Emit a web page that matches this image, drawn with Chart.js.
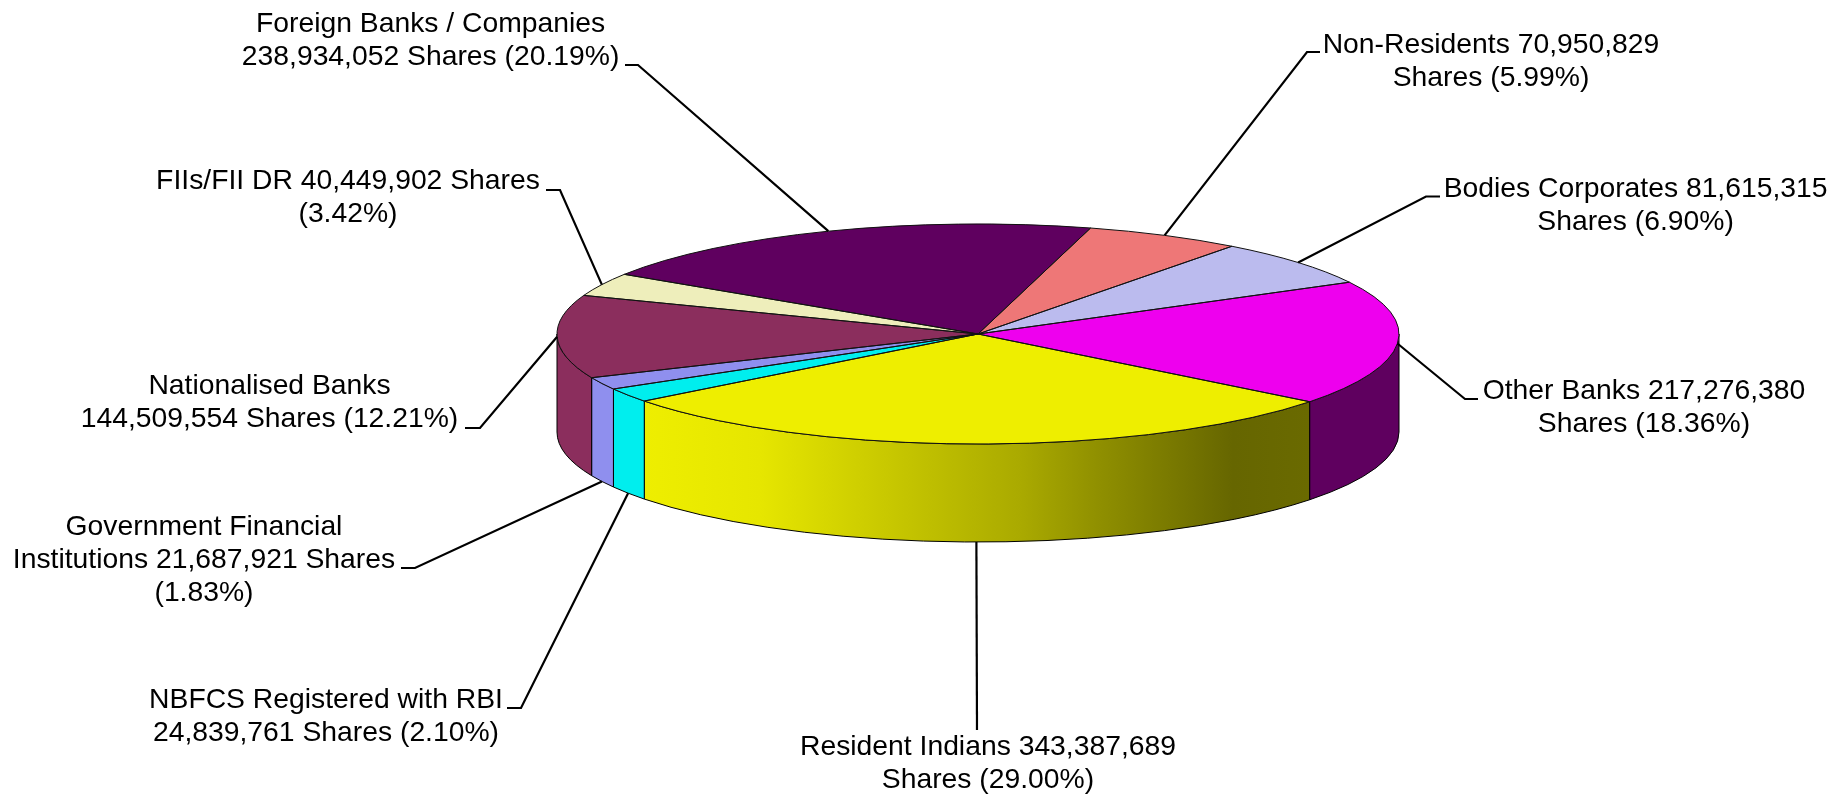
<!DOCTYPE html>
<html>
<head>
<meta charset="utf-8">
<title>Shareholding pattern</title>
<script src="https://cdn.jsdelivr.net/npm/chart.js@4"></script>
<style>
  html, body { margin: 0; padding: 0; background: #fff; overflow: hidden; }
  canvas { display: block; }
</style>
</head>
<body>
<canvas id="myChart" width="1845" height="796"></canvas>
<script>
const categorias = ['Resident Indians', 'NBFCS Registered with RBI', 'Government Financial Institutions', 'Nationalised Banks', 'FIIs/FII DR', 'Foreign Banks / Companies', 'Non-Residents', 'Bodies Corporates', 'Other Banks'];
const acciones = [343387689, 24839761, 21687921, 144509554, 40449902, 238934052, 70950829, 81615315, 217276380];
const porcentajes = [29.00, 2.10, 1.83, 12.21, 3.42, 20.19, 5.99, 6.90, 18.36];

// words on each line of a label
const palabrasPorLinea = [[3, 2], [4, 3], [2, 3, 1], [2, 3], [4, 1], [4, 3], [2, 2], [3, 2], [3, 2]];

const coloresTapa = ['#EEEE00', '#00EEEE', '#8F8FEE', '#8B2E5D', '#EEEEBB', '#5F005F', '#EE7777', '#BBBBEE', '#EE00EE'];
const coloresLado = ['#EEEE00', '#00EEEE', '#8F8FEE', '#8B2E5D', '#EEEEBB', '#5F005F', '#EE7777', '#BBBBEE', '#5F005F'];

// label centre x, first line y, leader elbow and the stub end next to the text
const posicionEtiqueta = [
  { x: 988, y: 747.5, codo: [977, 730], fin: null, base: true },
  { x: 326, y: 700.5, codo: [521, 708], fin: [507, 708], base: true },
  { x: 204, y: 527.5, codo: [415, 568], fin: [401, 568], base: true },
  { x: 269.5, y: 386.5, codo: [480, 428], fin: [465, 428], base: false },
  { x: 348, y: 181.5, codo: [560, 190], fin: [546, 190], base: false },
  { x: 430.6, y: 24, codo: [638, 65], fin: [625, 65], base: false },
  { x: 1491, y: 45, codo: [1307, 52], fin: [1320, 52], base: false },
  { x: 1635.6, y: 189.5, codo: [1426, 196.5], fin: [1440, 196.5], base: false },
  { x: 1644, y: 391, codo: [1465, 399], fin: [1478, 399], base: false }
];

const aplanado = 0.2613;
const profundidad = 98;
const altoLinea = 33;

function textoEtiqueta(i) {
  const palabras = `${categorias[i]} ${acciones[i].toLocaleString('en-US')} Shares (${porcentajes[i].toFixed(2)}%)`.split(' ');
  let desde = 0;
  return palabrasPorLinea[i].map((n) => {
    const linea = palabras.slice(desde, desde + n).join(' ');
    desde += n;
    return linea;
  });
}

// part of an arc facing the viewer (canvas angles 0..PI, and one turn later)
function tramoFrontal(a, b) {
  for (const giro of [-2 * Math.PI, 0, 2 * Math.PI]) {
    const ini = Math.max(a, giro);
    const fin = Math.min(b, giro + Math.PI);
    if (fin > ini) return [ini, fin];
  }
  return null;
}

const pastel3d = {
  id: 'pastel3d',
  beforeDatasetsDraw(chart) {
    const ctx = chart.ctx;
    const arcos = chart.getDatasetMeta(0).data;

    arcos.forEach((arco, i) => {
      const p = arco.getProps(['x', 'y', 'startAngle', 'endAngle', 'outerRadius'], true);
      const tramo = tramoFrontal(p.startAngle, p.endAngle);
      if (!tramo) return;
      const ry = p.outerRadius * aplanado;

      ctx.beginPath();
      ctx.ellipse(p.x, p.y, p.outerRadius, ry, 0, tramo[0], tramo[1]);
      ctx.ellipse(p.x, p.y + profundidad, p.outerRadius, ry, 0, tramo[1], tramo[0], true);
      ctx.closePath();

      if (i === 0) {
        const x1 = p.x + p.outerRadius * Math.cos(tramo[1]);
        const x2 = p.x + p.outerRadius * Math.cos(tramo[0]);
        const grad = ctx.createLinearGradient(x1, 0, x2, 0);
        grad.addColorStop(0, '#EEEE00');
        grad.addColorStop(0.174, '#E6E600');
        grad.addColorStop(0.34, '#CCCC00');
        grad.addColorStop(0.565, '#AAAA00');
        grad.addColorStop(0.685, '#8F8F00');
        grad.addColorStop(0.885, '#666600');
        grad.addColorStop(1, '#6A6A00');
        ctx.fillStyle = grad;
      } else {
        ctx.fillStyle = coloresLado[i];
      }
      ctx.fill();

      ctx.lineWidth = 1;
      ctx.strokeStyle = '#000';
      ctx.stroke();
    });

    // squash the library's round pie into the top of the disc
    const c = arcos[0];
    ctx.save();
    ctx.translate(c.x, c.y);
    ctx.scale(1, aplanado);
    ctx.translate(-c.x, -c.y);
  },
  afterDatasetsDraw(chart) {
    const ctx = chart.ctx;
    ctx.restore();

    chart.getDatasetMeta(0).data.forEach((arco) => {
      const p = arco.getProps(['x', 'y', 'startAngle', 'endAngle', 'outerRadius'], true);
      ctx.beginPath();
      ctx.moveTo(p.x, p.y);
      ctx.ellipse(p.x, p.y, p.outerRadius, p.outerRadius * aplanado, 0, p.startAngle, p.endAngle);
      ctx.closePath();
      ctx.lineWidth = 1;
      ctx.strokeStyle = '#111';
      ctx.stroke();
    });
  },
  afterDraw(chart) {
    const ctx = chart.ctx;

    chart.getDatasetMeta(0).data.forEach((arco, i) => {
      const p = arco.getProps(['x', 'y', 'startAngle', 'endAngle', 'outerRadius'], true);
      const pos = posicionEtiqueta[i];
      const medio = (p.startAngle + p.endAngle) / 2;
      const ax = p.x + p.outerRadius * Math.cos(medio);
      const ay = p.y + p.outerRadius * aplanado * Math.sin(medio) + (pos.base ? profundidad : 0);

      ctx.beginPath();
      ctx.moveTo(ax, ay);
      ctx.lineTo(pos.codo[0], pos.codo[1]);
      if (pos.fin) ctx.lineTo(pos.fin[0], pos.fin[1]);
      ctx.lineWidth = 2.2;
      ctx.strokeStyle = '#000';
      ctx.stroke();

      ctx.font = '28.3px "Liberation Sans"';
      ctx.fillStyle = '#000';
      ctx.textAlign = 'center';
      ctx.textBaseline = 'middle';
      textoEtiqueta(i).forEach((linea, n) => {
        ctx.fillText(linea, pos.x, pos.y + n * altoLinea);
      });
    });
  }
};

new Chart(document.getElementById('myChart'), {
  type: 'pie',
  data: {
    labels: categorias,
    datasets: [{
      data: acciones,
      backgroundColor: coloresTapa,
      borderWidth: 0,
      clip: false
    }]
  },
  options: {
    responsive: false,
    animation: false,
    events: [],
    rotation: 128,
    radius: 421,
    layout: { padding: { left: 111, bottom: 128 } },
    plugins: { legend: { display: false }, tooltip: { enabled: false }, title: { display: false } }
  },
  plugins: [pastel3d]
});
</script>
</body>
</html>
